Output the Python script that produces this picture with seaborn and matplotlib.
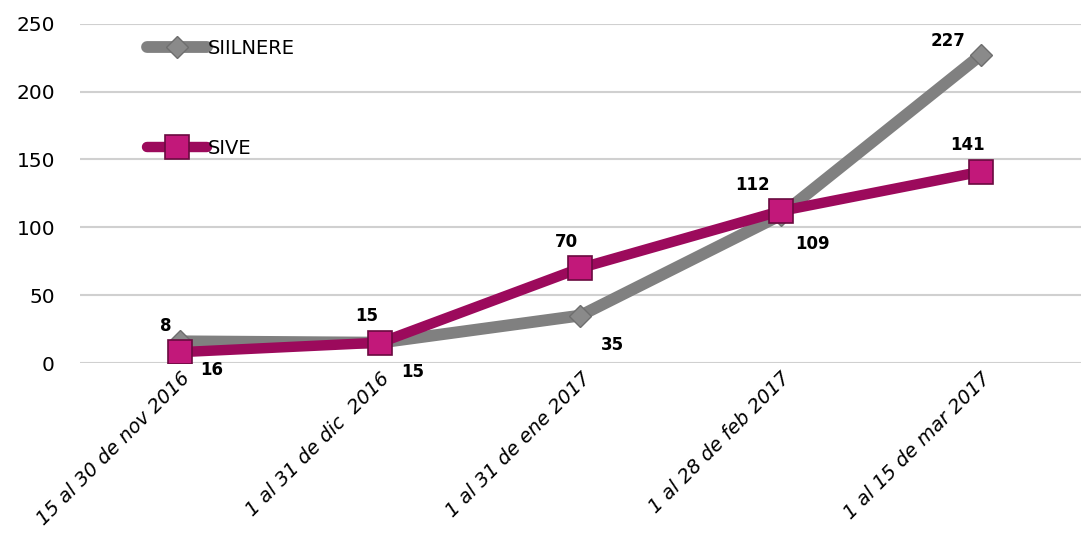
import pandas as pd
import matplotlib.pyplot as plt
import seaborn as sns

periods = ["15 al 30 de nov 2016", "1 al 31 de dic  2016", "1 al 31 de ene 2017",
           "1 al 28 de feb 2017", "1 al 15 de mar 2017"]
siilnere = [16, 15, 35, 109, 227]
sive = [8, 15, 70, 112, 141]

df = pd.DataFrame({"pos": range(len(periods)), "periodo": periods,
                   "SIILNERE": siilnere, "SIVE": sive})

sns.set_style("white")
plt.rcParams["font.family"] = ["DejaVu Sans"]
plt.rcParams["text.color"] = "black"
plt.rcParams["xtick.color"] = "black"
plt.rcParams["ytick.color"] = "black"

fig = plt.figure(figsize=(10.81, 5.41), dpi=100)
ax = fig.add_axes([0.074, 0.329, 0.926, 0.627])

gray = "#808080"
magenta = "#9C0A5C"

sns.lineplot(data=df, x="pos", y="SIILNERE", ax=ax, color=gray, linewidth=8.5,
             marker="D", markersize=11.5, markerfacecolor="#8a8a8a",
             markeredgecolor="#6e6e6e", markeredgewidth=1, label="SIILNERE", zorder=3)
sns.lineplot(data=df, x="pos", y="SIVE", ax=ax, color=magenta, linewidth=7.5,
             marker="s", markersize=17, markerfacecolor="#C2187A",
             markeredgecolor="#6a0a40", markeredgewidth=1.2, label="SIVE", zorder=4)

# etiquetas de datos
last = len(df) - 1
for i, v in enumerate(df["SIVE"]):
    dx = -20 if i == 3 else -10
    ax.annotate(str(v), (i, v), xytext=(dx, 19), textcoords="offset points",
                ha="center", va="center", fontsize=12, fontweight="bold")
for i, v in enumerate(df["SIILNERE"]):
    off = (-24, 10) if i == last else (23, -21)
    ax.annotate(str(v), (i, v), xytext=off, textcoords="offset points",
                ha="center", va="center", fontsize=12, fontweight="bold")

ax.set_xlim(-0.5, 4.5)
ax.set_ylim(0, 250)
ax.set_yticks([0, 50, 100, 150, 200, 250])
ax.set_xticks(range(len(periods)))
ax.set_xticklabels(periods, rotation=45, ha="right", rotation_mode="anchor",
                   fontsize=14, fontstyle="italic")
ax.tick_params(axis="y", labelsize=14.5, length=0, pad=18)
ax.tick_params(axis="x", length=0, pad=4)
ax.set_xlabel("")
ax.set_ylabel("")
ax.yaxis.grid(True, color="#d0d0d0", linewidth=1.5)
ax.set_axisbelow(True)
for s in ax.spines.values():
    s.set_visible(False)

ax.legend(loc="upper left", bbox_to_anchor=(0.067, 0.955), frameon=False,
          fontsize=14, labelspacing=4.15, handlelength=3.1, handletextpad=0.0,
          borderaxespad=0, borderpad=0)

fig.savefig("out.png", dpi=100)
